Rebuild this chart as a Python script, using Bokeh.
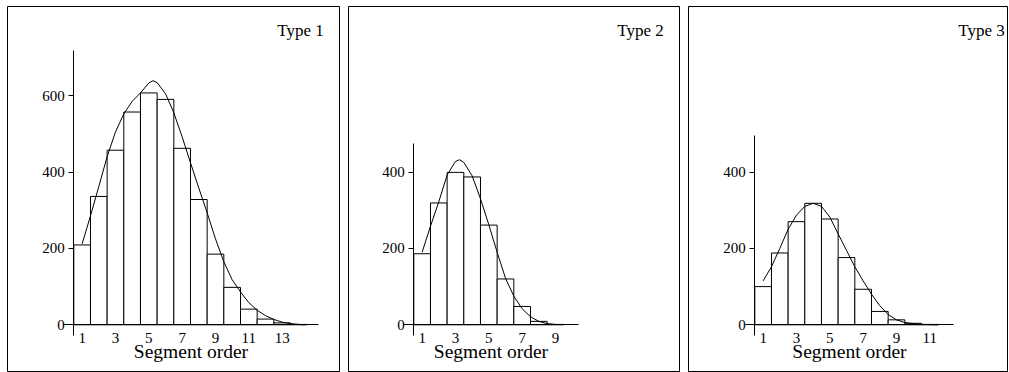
from bokeh.plotting import figure
from bokeh.models import LinearAxis, FixedTicker, Range1d, Label
from bokeh.layouts import row
from bokeh.embed import file_html
from bokeh.resources import INLINE

# ---------------- data ----------------
panel_titles = ["Type 1", "Type 2", "Type 3"]
x_title = "Segment order"

orders_1 = [1, 2, 3, 4, 5, 6, 7, 8, 9, 10, 11, 12, 13, 14]
counts_1 = [209, 336, 457, 557, 607, 590, 462, 328, 185, 98, 41, 15, 5, 1]
fit_x_1 = [1.0, 1.5, 2.0, 2.5, 3.0, 3.5, 4.0, 4.5, 5.0, 5.25, 5.5, 6.0, 6.5, 7.0, 7.5,
           8.0, 8.5, 9.0, 9.5, 10.0, 10.5, 11.0, 11.5, 12.0, 12.5, 13.0, 13.5, 14.0, 14.3]
fit_y_1 = [212, 285, 362, 440, 505, 552, 585, 607, 633, 639, 634, 605, 555, 492, 424,
           358, 293, 225, 165, 118, 86, 58, 38, 24, 14, 7, 3, 1, 0]
xticks_1 = [1, 3, 5, 7, 9, 11, 13]
yticks_1 = [0, 200, 400, 600]

orders_2 = [1, 2, 3, 4, 5, 6, 7, 8, 9]
counts_2 = [186, 319, 399, 387, 261, 120, 48, 9, 1]
fit_x_2 = [1.0, 1.5, 2.0, 2.5, 3.0, 3.25, 3.5, 4.0, 4.5, 5.0, 5.5, 6.0, 6.5, 7.0,
           7.5, 8.0, 8.5, 9.0, 9.1]
fit_y_2 = [190, 258, 322, 392, 428, 432, 425, 390, 330, 262, 190, 122, 75, 42,
           21, 9, 3, 1, 0]
xticks_2 = [1, 3, 5, 7, 9]
yticks_2 = [0, 200, 400]

orders_3 = [1, 2, 3, 4, 5, 6, 7, 8, 9, 10, 11]
counts_3 = [100, 188, 270, 318, 277, 176, 93, 35, 13, 4, 1]
fit_x_3 = [1.0, 1.5, 2.0, 2.5, 3.0, 3.5, 4.0, 4.5, 5.0, 5.5, 6.0, 6.5, 7.0, 7.5,
           8.0, 8.5, 9.0, 9.5, 10.0, 10.5, 11.0, 11.5]
fit_y_3 = [115, 152, 200, 250, 287, 310, 318, 310, 282, 238, 195, 152, 115, 80,
           50, 27, 13, 6, 3, 1, 0.5, 0]
xticks_3 = [1, 3, 5, 7, 9, 11]
yticks_3 = [0, 200, 400]

# ---------------- layout config ----------------
FONT = "Liberation Serif"
H = 366
PX_PER_X = 16.67       # pixels per unit of segment order
PX_PER_Y = 0.382       # pixels per count
ZERO_FROM_TOP = 318.3  # pixel distance from frame top to count 0
YAXIS_FROM_LEFT = [66.3, 65.3, 66.3]  # pixel distance from frame left to y axis line
WIDTHS = [333, 332, 320]
XAXIS_BOUNDS = [(-0.1, 15.2), (-0.1, 10.4), (-0.06, 12.44)]
YAXIS_TOP = [717, 475, 495]
YAXIS_BOTTOM = -28


def make_panel(i, orders, counts, fx, fy, xticks, yticks, title):
    w = WIDTHS[i]
    x0 = 0.5 - YAXIS_FROM_LEFT[i] / PX_PER_X
    x1 = x0 + w / PX_PER_X
    y1 = ZERO_FROM_TOP / PX_PER_Y
    y0 = y1 - H / PX_PER_Y
    p = figure(width=w, height=H, x_range=Range1d(x0, x1), y_range=Range1d(y0, y1),
               output_backend="svg", toolbar_location=None,
               x_axis_type=None, y_axis_type=None, title=None,
               min_border=0, min_border_left=0, min_border_right=0,
               min_border_top=0, min_border_bottom=0)
    p.outline_line_color = "black"
    p.outline_line_width = 1
    p.background_fill_color = "white"
    p.border_fill_color = "white"

    p.vbar(x=orders, top=counts, bottom=0, width=1.0,
           fill_color="white", line_color="black", line_width=1)
    p.line(fx, fy, line_color="black", line_width=1)

    yaxis = LinearAxis(fixed_location=0.5, bounds=(YAXIS_BOTTOM, YAXIS_TOP[i]),
                       ticker=FixedTicker(ticks=yticks, minor_ticks=[]))
    yaxis.axis_line_color = "black"
    yaxis.major_tick_line_color = "black"
    yaxis.major_tick_out = 5
    yaxis.major_tick_in = 0
    yaxis.minor_tick_out = 0
    yaxis.minor_tick_in = 0
    yaxis.major_label_standoff = 4
    yaxis.major_label_text_font = FONT
    yaxis.major_label_text_font_size = "15px"
    yaxis.major_label_text_color = "black"
    p.add_layout(yaxis, "left")

    xaxis = LinearAxis(fixed_location=0, bounds=XAXIS_BOUNDS[i],
                       ticker=FixedTicker(ticks=xticks, minor_ticks=[]))
    xaxis.axis_line_color = "black"
    xaxis.major_tick_out = 0
    xaxis.major_tick_in = 0
    xaxis.minor_tick_out = 0
    xaxis.minor_tick_in = 0
    xaxis.major_label_standoff = 8
    xaxis.major_label_text_font = FONT
    xaxis.major_label_text_font_size = "15px"
    xaxis.major_label_text_color = "black"
    xaxis.axis_label = x_title
    xaxis.axis_label_standoff = -5
    xaxis.axis_label_text_font = FONT
    xaxis.axis_label_text_font_size = "19.5px"
    xaxis.axis_label_text_font_style = "normal"
    xaxis.axis_label_text_color = "black"
    p.add_layout(xaxis, "below")

    lbl = Label(x=15.5, y=(ZERO_FROM_TOP - 24) / PX_PER_Y, text=title,
                text_align="right", text_baseline="middle",
                text_font=FONT, text_font_size="17px", text_color="black")
    p.add_layout(lbl)
    return p


p1 = make_panel(0, orders_1, counts_1, fit_x_1, fit_y_1, xticks_1, yticks_1, panel_titles[0])
p2 = make_panel(1, orders_2, counts_2, fit_x_2, fit_y_2, xticks_2, yticks_2, panel_titles[1])
p3 = make_panel(2, orders_3, counts_3, fit_x_3, fit_y_3, xticks_3, yticks_3, panel_titles[2])

layout = row(p1, p2, p3, spacing=8, margin=(6, 0, 0, 7))
open("out.html", "w").write(file_html(layout, INLINE))
